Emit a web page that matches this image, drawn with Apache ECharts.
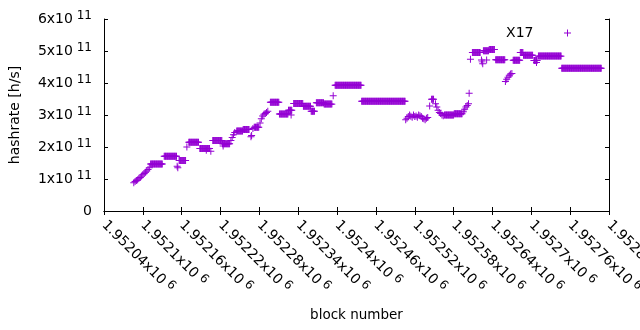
<!DOCTYPE html>
<html>
<head>
<meta charset="utf-8">
<script src="https://cdn.jsdelivr.net/npm/echarts@6/dist/echarts.min.js"></script>
<style>
  html, body { margin: 0; padding: 0; background: #fff; }
  #chart { width: 640px; height: 330px; }
</style>
</head>
<body>
<div id="chart"></div>
<script>
// hashrate runs: block from, block to, hashrate (x10^11 h/s)
var runFrom = [1952086, 1952088, 1952090, 1952092, 1952094, 1952096, 1952098, 1952100, 1952102, 1952104, 1952106, 1952108, 1952110,
  1952112, 1952133, 1952153, 1952154, 1952156, 1952168, 1952171, 1952188, 1952198, 1952205, 1952208, 1952223, 1952224,
  1952236, 1952238, 1952240, 1952242, 1952245, 1952255, 1952267, 1952268, 1952270, 1952272,
  1952281, 1952283, 1952285, 1952287, 1952289, 1952291, 1952293,
  1952297, 1952311, 1952325, 1952329, 1952333, 1952348, 1952360, 1952368, 1952380, 1952394, 1952397, 1952438,
  1952506, 1952508, 1952510, 1952512, 1952514, 1952516, 1952518, 1952520, 1952522, 1952524, 1952526, 1952528, 1952530, 1952532, 1952534, 1952536, 1952538, 1952540,
  1952543, 1952546, 1952552, 1952554, 1952556, 1952558, 1952560, 1952562, 1952564, 1952566, 1952581,
  1952595, 1952597, 1952599, 1952601, 1952603, 1952604, 1952606, 1952609,
  1952623, 1952624, 1952625, 1952631, 1952626, 1952635, 1952645,
  1952660, 1952662, 1952664, 1952666, 1952668, 1952670,
  1952672, 1952683, 1952688, 1952704, 1952708, 1952711, 1952747];
var runTo = [1952086, 1952088, 1952090, 1952092, 1952094, 1952096, 1952098, 1952100, 1952102, 1952104, 1952106, 1952108, 1952110,
  1952130, 1952152, 1952153, 1952154, 1952166, 1952168, 1952186, 1952203, 1952198, 1952205, 1952222, 1952234, 1952224,
  1952236, 1952238, 1952240, 1952242, 1952254, 1952264, 1952267, 1952268, 1952270, 1952279,
  1952281, 1952283, 1952285, 1952287, 1952289, 1952291, 1952293,
  1952310, 1952324, 1952330, 1952329, 1952347, 1952359, 1952365, 1952379, 1952392, 1952394, 1952437, 1952505,
  1952506, 1952508, 1952510, 1952512, 1952514, 1952516, 1952518, 1952520, 1952522, 1952524, 1952526, 1952528, 1952530, 1952532, 1952534, 1952536, 1952538, 1952540,
  1952543, 1952549, 1952552, 1952554, 1952556, 1952558, 1952560, 1952562, 1952564, 1952580, 1952593,
  1952595, 1952597, 1952599, 1952601, 1952603, 1952604, 1952606, 1952621,
  1952623, 1952624, 1952625, 1952631, 1952634, 1952643, 1952659,
  1952660, 1952662, 1952664, 1952666, 1952668, 1952670,
  1952682, 1952687, 1952702, 1952709, 1952708, 1952746, 1952808];
var runRate = [0.88, 0.92, 0.95, 0.98, 1.02, 1.05, 1.09, 1.13, 1.17, 1.21, 1.25, 1.30, 1.35,
  1.47, 1.71, 1.40, 1.35, 1.58, 2.00, 2.15, 1.95, 1.90, 1.87, 2.20, 2.10, 2.03,
  2.20, 2.30, 2.38, 2.45, 2.50, 2.55, 2.32, 2.36, 2.58, 2.62,
  2.75, 2.88, 2.97, 3.02, 3.05, 3.08, 3.12,
  3.40, 3.03, 3.15, 3.00, 3.36, 3.27, 3.12, 3.38, 3.34, 3.60, 3.93, 3.43,
  2.85, 2.90, 2.95, 3.00, 2.96, 2.93, 3.00, 2.95, 2.97, 2.93, 3.00, 2.98, 2.95, 2.90, 2.88, 2.85, 2.90, 2.92,
  3.28, 3.49, 3.35, 3.25, 3.15, 3.08, 3.05, 3.00, 2.98, 3.00, 3.04,
  3.10, 3.18, 3.25, 3.30, 3.35, 3.68, 4.74, 4.95,
  4.72, 4.66, 4.60, 4.72, 5.01, 5.05, 4.73,
  4.05, 4.12, 4.18, 4.24, 4.28, 4.30,
  4.71, 4.95, 4.87, 4.70, 4.64, 4.84, 4.46];

var xMin = 1952040, xMax = 1952820, xStep = 60;
var yMax = 6e11, yStep = 1e11;

var purple = '#9400D3';
var plusPath = 'path://M4.3,0h1.4v4.3h4.3v1.4h-4.3v4.3h-1.4v-4.3h-4.3v-1.4h4.3z';
var fontName = 'DejaVu Sans';

// one point per block
var points = [];
for (var i = 0; i < runFrom.length; i++) {
  for (var b = runFrom[i]; b <= runTo[i]; b++) {
    points.push([b, runRate[i] * 1e11]);
  }
}

var chart = echarts.init(document.getElementById('chart'), null, { renderer: 'canvas' });

// base text plus raised exponent
var supRich = {
  m: { fontSize: 14, fontFamily: fontName, color: '#000', lineHeight: 19 },
  s: { fontSize: 12, fontFamily: fontName, color: '#000', lineHeight: 12, verticalAlign: 'top' }
};

chart.setOption({
  animation: false,
  backgroundColor: '#fff',
  textStyle: { fontFamily: fontName },
  grid: { left: 104, right: 31, top: 19, bottom: 119, containLabel: false, outerBoundsMode: 'none' },
  legend: {
    data: [{ name: 'X17', icon: plusPath }],
    right: 64,
    top: 21,
    align: 'right',
    itemWidth: 58,
    itemHeight: 7,
    selectedMode: false,
    textStyle: { fontSize: 14, color: '#000', fontFamily: fontName }
  },
  xAxis: [{
    type: 'value',
    min: xMin,
    max: xMax,
    interval: xStep,
    name: 'block number',
    nameLocation: 'middle',
    nameGap: 97,
    nameTextStyle: { fontSize: 13.5, color: '#000', fontFamily: fontName },
    axisLine: { show: true, lineStyle: { color: '#000', width: 1 } },
    axisTick: { show: true, inside: true, length: 4, lineStyle: { color: '#000' } },
    splitLine: { show: false },
    axisLabel: {
      rotate: -45,
      margin: 12,
      showMinLabel: true,
      showMaxLabel: true,
      formatter: function (v) {
        var s = parseFloat((v / 1e6).toFixed(5));
        return '{m|' + s + 'x10}{s| 6}';
      },
      rich: supRich
    }
  }, {
    type: 'value',
    position: 'top',
    min: xMin,
    max: xMax,
    interval: xStep,
    axisLine: { show: true, lineStyle: { color: '#000', width: 1 } },
    axisTick: { show: true, inside: true, length: 4, lineStyle: { color: '#000' } },
    axisLabel: { show: false },
    splitLine: { show: false }
  }],
  yAxis: [{
    type: 'value',
    min: 0,
    max: yMax,
    interval: yStep,
    name: 'hashrate [h/s]',
    nameLocation: 'middle',
    nameRotate: 90,
    nameGap: 82,
    nameTextStyle: { fontSize: 14, color: '#000', fontFamily: fontName },
    axisLine: { show: true, lineStyle: { color: '#000', width: 1 } },
    axisTick: { show: true, inside: true, length: 4, lineStyle: { color: '#000' } },
    splitLine: { show: false },
    axisLabel: {
      margin: 12,
      formatter: function (v) {
        if (v === 0) return '{m|0}';
        return '{m|' + Math.round(v / 1e11) + 'x10}{s| 11}';
      },
      rich: supRich
    }
  }, {
    type: 'value',
    position: 'right',
    min: 0,
    max: yMax,
    interval: yStep,
    axisLine: { show: true, lineStyle: { color: '#000', width: 1 } },
    axisTick: { show: true, inside: true, length: 4, lineStyle: { color: '#000' } },
    axisLabel: { show: false },
    splitLine: { show: false }
  }],
  series: [{
    name: 'X17',
    type: 'scatter',
    xAxisIndex: 0,
    yAxisIndex: 0,
    symbol: plusPath,
    symbolSize: 7,
    itemStyle: { color: purple, opacity: 1 },
    emphasis: { disabled: true },
    data: points
  }]
});
</script>
</body>
</html>
